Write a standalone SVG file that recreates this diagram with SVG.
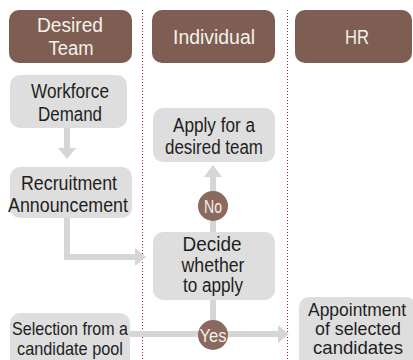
<svg xmlns="http://www.w3.org/2000/svg" width="413" height="360" viewBox="0 0 413 360">
<defs>
<style>
.hdr{fill:#7e5e53}
.box{fill:#dedede}
.ht{font-family:"Liberation Sans",Arial,sans-serif;font-size:20px;fill:#f6f0ea;text-anchor:middle}
.bt{font-family:"Liberation Sans",Arial,sans-serif;font-size:20px;fill:#1e1e1e;text-anchor:middle}
.tt{font-size:19px}
.ct{font-family:"Liberation Sans",Arial,sans-serif;font-size:19px;fill:#f6f0ea;text-anchor:middle}
.ln{stroke:#d6d6d6;stroke-width:6;fill:none}
.ah{fill:#d6d6d6}
.div{stroke:#8a2e2e;stroke-width:1;stroke-dasharray:1 2}
.circ{fill:#8a695e}
</style>
</defs>
<rect width="413" height="360" fill="#ffffff"/>
<g id="dividers">
<line class="div" x1="142.5" y1="10" x2="142.5" y2="360"/>
<line class="div" x1="287.5" y1="10" x2="287.5" y2="360"/>
</g>
<g id="connectors">
<line class="ln" x1="67" y1="128" x2="67" y2="149"/>
<polygon class="ah" points="58,148 76,148 67,159"/>
<polyline class="ln" points="67,218 67,257 136,257"/>
<polygon class="ah" points="135,248 135,266 146,257"/>
<line class="ln" x1="213" y1="232" x2="213" y2="176"/>
<polygon class="ah" points="204,177 222,177 213,165"/>
<line class="ln" x1="213" y1="300" x2="213" y2="334"/>
<line class="ln" x1="130" y1="334" x2="279" y2="334"/>
<polygon class="ah" points="278,325 278,343 289,334"/>
</g>
<g id="hdr-team">
<rect class="hdr" x="9" y="10" width="123" height="53" rx="10"/>
<text class="ht" x="70" y="32" textLength="66" lengthAdjust="spacingAndGlyphs">Desired</text>
<text class="ht" x="71" y="55" textLength="45" lengthAdjust="spacingAndGlyphs">Team</text>
</g>
<g id="hdr-individual">
<rect class="hdr" x="152" y="10" width="123" height="53" rx="10"/>
<text class="ht" x="214" y="44" textLength="82" lengthAdjust="spacingAndGlyphs">Individual</text>
</g>
<g id="hdr-hr">
<rect class="hdr" x="295" y="10" width="117" height="53" rx="10"/>
<text class="ht" x="357" y="44" textLength="24" lengthAdjust="spacingAndGlyphs">HR</text>
</g>
<g id="workforce">
<rect class="box" x="10" y="75" width="117" height="53" rx="10"/>
<text class="bt" x="70" y="98" textLength="78" lengthAdjust="spacingAndGlyphs">Workforce</text>
<text class="bt" x="70" y="121" textLength="64" lengthAdjust="spacingAndGlyphs">Demand</text>
</g>
<g id="recruitment">
<rect class="box" x="10" y="167" width="122" height="51" rx="10"/>
<text class="bt" x="69" y="190" textLength="96" lengthAdjust="spacingAndGlyphs">Recruitment</text>
<text class="bt" x="68" y="212" textLength="120" lengthAdjust="spacingAndGlyphs">Announcement</text>
</g>
<g id="apply">
<rect class="box" x="153" y="108" width="122" height="54" rx="10"/>
<text class="bt" x="214" y="132" textLength="82" lengthAdjust="spacingAndGlyphs">Apply for a</text>
<text class="bt" x="214" y="154" textLength="98" lengthAdjust="spacingAndGlyphs">desired team</text>
</g>
<g id="decide">
<rect class="box" x="153" y="232" width="122" height="68" rx="10"/>
<text class="bt" x="212" y="251" textLength="59" lengthAdjust="spacingAndGlyphs">Decide</text>
<text class="bt" x="213" y="272" textLength="63" lengthAdjust="spacingAndGlyphs">whether</text>
<text class="bt" x="213" y="292" textLength="60" lengthAdjust="spacingAndGlyphs">to apply</text>
</g>
<g id="selection">
<rect class="box" x="10" y="313" width="120" height="60" rx="10"/>
<text class="bt tt" x="70" y="335" textLength="116" lengthAdjust="spacingAndGlyphs">Selection from a</text>
<text class="bt tt" x="70" y="355" textLength="106" lengthAdjust="spacingAndGlyphs">candidate pool</text>
</g>
<g id="appointment">
<rect class="box" x="299" y="297" width="117" height="76" rx="10"/>
<text class="bt tt" x="357" y="316" textLength="98" lengthAdjust="spacingAndGlyphs">Appointment</text>
<text class="bt tt" x="358" y="335" textLength="86" lengthAdjust="spacingAndGlyphs">of selected</text>
<text class="bt tt" x="358" y="354" textLength="90" lengthAdjust="spacingAndGlyphs">candidates</text>
</g>
<g id="no">
<circle class="circ" cx="213" cy="206" r="15"/>
<text class="ct" x="213" y="213" textLength="18" lengthAdjust="spacingAndGlyphs">No</text>
</g>
<g id="yes">
<circle class="circ" cx="213" cy="335" r="15"/>
<text class="ct" x="213" y="342" textLength="27" lengthAdjust="spacingAndGlyphs">Yes</text>
</g>
</svg>
